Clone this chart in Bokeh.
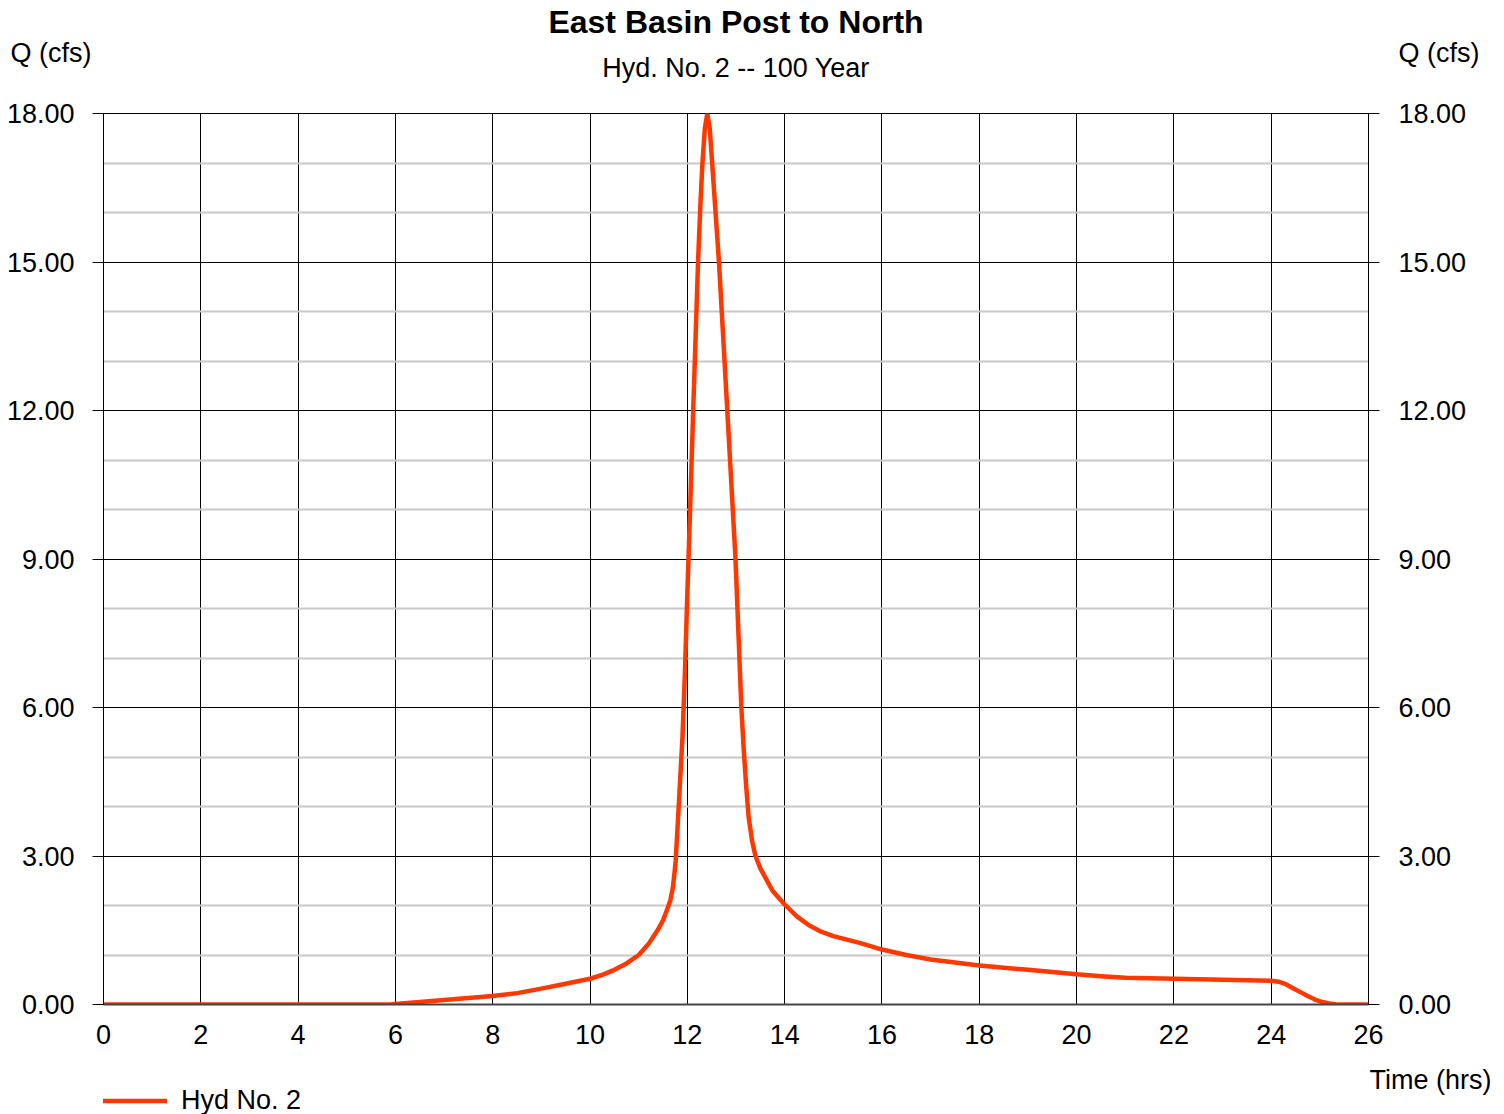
from bokeh.plotting import figure
from bokeh.layouts import column
from bokeh.models import (LinearAxis, FixedTicker, PrintfTickFormatter, Range1d,
                          Legend, LegendItem, Title)
from bokeh.embed import file_html
from bokeh.resources import INLINE

# ---- data ----
time_hrs = [0, 5.9, 6.0, 6.5, 7.0, 7.5, 8.0, 8.5, 9.0, 9.5, 10.0, 10.25, 10.5, 10.75,
            11.0, 11.2, 11.4, 11.5, 11.6, 11.65, 11.7, 11.73, 11.76, 11.8, 11.85, 11.9,
            11.95, 12.0, 12.06, 12.12, 12.17, 12.22, 12.27, 12.31, 12.36, 12.41,
            12.46, 12.51, 12.58, 12.65, 12.73, 12.81, 12.9, 12.99, 13.05, 13.11,
            13.16, 13.21, 13.26, 13.33, 13.4, 13.5, 13.75, 14.0, 14.25, 14.5, 14.75,
            15.0, 15.28, 15.56, 16.0, 16.5, 17.0, 17.5, 18.0, 19.0, 20.0, 20.5, 21.0,
            22.0, 23.0, 24.0, 24.15, 24.3, 24.45, 24.6, 24.75, 24.9, 25.05, 25.2,
            25.35, 26.0]
flow_cfs = [0, 0, 0.01, 0.05, 0.09, 0.13, 0.17, 0.23, 0.32, 0.42, 0.52, 0.60, 0.70, 0.83,
            1.00, 1.22, 1.52, 1.70, 1.96, 2.10, 2.35, 2.60, 2.90, 3.60, 4.50, 5.40,
            6.70, 8.30, 10.10, 12.00, 13.50, 15.00, 16.20, 17.00, 17.70, 18.00,
            17.70, 17.00, 16.00, 15.00, 13.60, 12.20, 10.60, 9.00, 7.50, 6.00,
            5.13, 4.40, 3.78, 3.31, 3.00, 2.75, 2.30, 2.02, 1.78, 1.60, 1.47,
            1.38, 1.31, 1.24, 1.11, 1.00, 0.91, 0.85, 0.79, 0.70, 0.61, 0.57, 0.54,
            0.52, 0.50, 0.48, 0.46, 0.41, 0.33, 0.25, 0.17, 0.10, 0.05, 0.02,
            0.0, 0.0]

x_ticks = [0, 2, 4, 6, 8, 10, 12, 14, 16, 18, 20, 22, 24, 26]
y_ticks = [0, 3, 6, 9, 12, 15, 18]
y_minor = [1, 2, 4, 5, 7, 8, 10, 11, 13, 14, 16, 17]

title_text = "East Basin Post to North"
subtitle_text = "Hyd. No. 2 -- 100 Year"
y_label = "Q (cfs)"
x_label = "Time (hrs)"
series_name = "Hyd No. 2"

FONT = "Liberation Sans"
FS = "27px"
H_FS = 30.6      # estimated text box height for FS
H_TITLE = 36.2   # estimated text box height for the bold title
RED = "#ff3800"
LINE_STYLE = dict(line_color=RED, line_width=4.5, line_join="round", line_cap="round")


def row_title(text, height, text_h, size=FS, style="normal", align="left", offset=0):
    """A Title whose panel row is `height` px tall, text centred in the row."""
    return Title(text=text, align=align, offset=offset, vertical_align="middle",
                 standoff=height - 2 - text_h, text_font=FONT, text_font_size=size,
                 text_font_style=style, text_color="black")


# ================= main chart =================
p = figure(output_backend="svg", toolbar_location=None,
           x_range=Range1d(0, 26), y_range=Range1d(0, 18),
           min_border_left=103, min_border_right=128, min_border_top=113,
           min_border_bottom=0, y_axis_location=None)
p.frame_width = 1265
p.frame_height = 891
p.outline_line_color = "black"
p.outline_line_width = 1

p.xgrid.ticker = FixedTicker(ticks=x_ticks)
p.xgrid.grid_line_color = "black"
p.xgrid.grid_line_width = 1
p.ygrid.ticker = FixedTicker(ticks=y_ticks, minor_ticks=y_minor)
p.ygrid.grid_line_color = "black"
p.ygrid.grid_line_width = 1
p.ygrid.minor_grid_line_color = "#c8c8c8"
p.ygrid.minor_grid_line_width = 2

xa = p.xaxis[0]
xa.ticker = FixedTicker(ticks=x_ticks)
xa.major_tick_out = 0
xa.major_tick_in = 0
xa.minor_tick_out = 0
xa.axis_line_color = "#444444"
xa.axis_line_width = 2
xa.major_label_standoff = 20
xa.major_label_text_font = FONT
xa.major_label_text_font_size = FS
xa.major_label_text_color = "black"

for side, standoff in (("left", 18), ("right", 19)):
    ax = LinearAxis(ticker=FixedTicker(ticks=y_ticks),
                    formatter=PrintfTickFormatter(format="%.2f"))
    ax.major_tick_out = 11
    ax.major_tick_in = 0
    ax.minor_tick_out = 0
    ax.major_tick_line_color = "black"
    ax.axis_line_color = "black"
    ax.major_label_standoff = standoff
    ax.major_label_text_font = FONT
    ax.major_label_text_font_size = FS
    ax.major_label_text_color = "black"
    p.add_layout(ax, side)

p.line(time_hrs, flow_cfs, **LINE_STYLE)

# rows above the frame (nearest first)
p.add_layout(row_title(" ", 31, H_FS), "above")                       # spacer
p.add_layout(row_title(subtitle_text, 32, H_FS, align="center"), "above")
p.add_layout(row_title(y_label, 0, H_FS, offset=-93), "above")        # left Q (cfs)
p.add_layout(row_title(y_label, 0, H_FS, offset=1295), "above")       # right Q (cfs)
p.add_layout(row_title(" ", 32, H_FS), "above")                       # spacer
p.add_layout(row_title(title_text, 0, H_TITLE, size="32px", style="bold",
                       align="center"), "above")
p.add_layout(row_title(" ", 18, H_FS), "above")                       # spacer

# room below the x tick labels so they are not cut by the canvas edge
p.add_layout(row_title(" ", 12, H_FS), "below")

# ================= footer: x caption and legend =================
foot = figure(output_backend="svg", toolbar_location=None,
              x_range=Range1d(0, 26), y_range=Range1d(-2, -1),
              x_axis_location=None, y_axis_location=None,
              min_border_left=103, min_border_right=128, min_border_top=0,
              min_border_bottom=0, outline_line_color=None)
foot.frame_width = 1265
foot.frame_height = 37
foot.grid.visible = False
fr = foot.line(time_hrs, flow_cfs, **LINE_STYLE)   # same series, outside this strip's range

foot.add_layout(row_title(x_label, 0, H_FS, offset=1266), "above")
foot.add_layout(row_title(" ", 23, H_FS), "above")                    # spacer

legend = Legend(items=[LegendItem(label=series_name, renderers=[fr])],
                location=(0, 0), orientation="horizontal",
                glyph_width=64, glyph_height=27, label_height=27,
                label_standoff=14, padding=0, margin=0, spacing=0,
                border_line_color=None, background_fill_alpha=0,
                label_text_font=FONT, label_text_font_size=FS,
                label_text_color="black")
foot.add_layout(legend, "center")

layout = column(p, foot, spacing=0)
open("out.html", "w").write(file_html(layout, INLINE))
